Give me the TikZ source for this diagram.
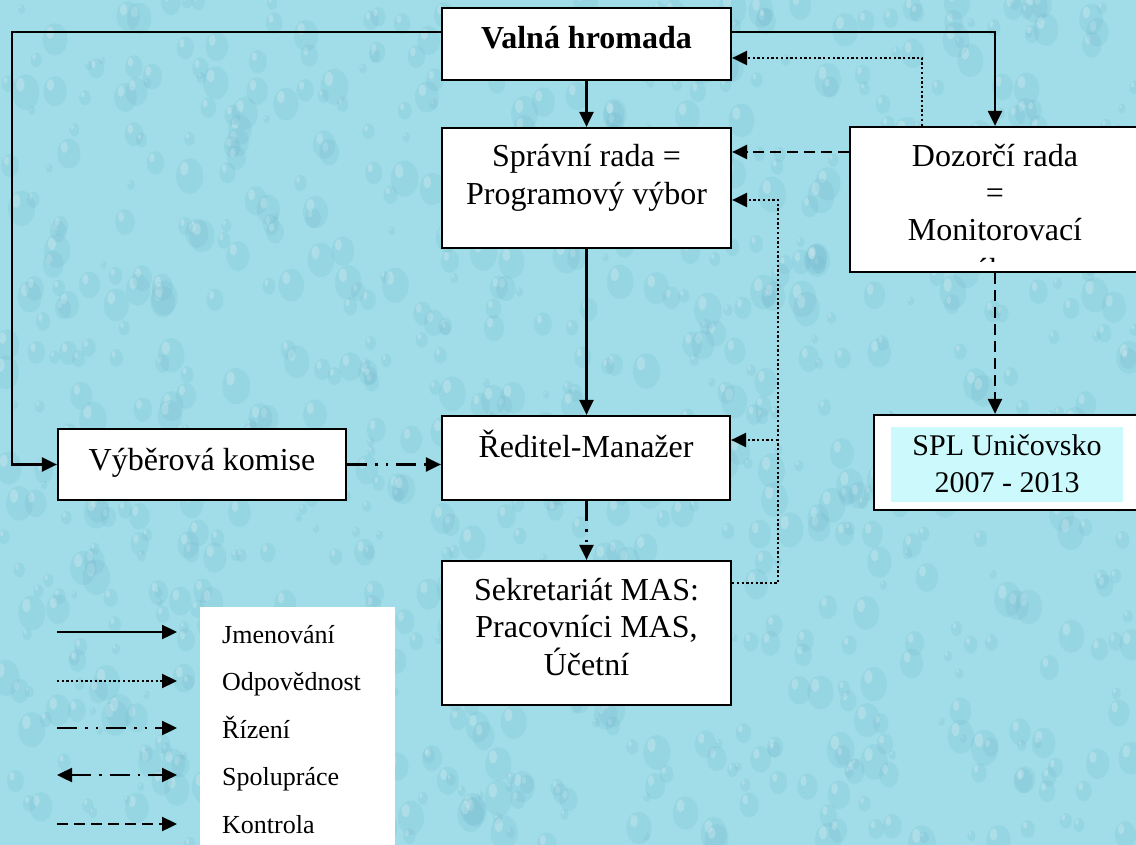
\documentclass[tikz,border=0pt]{standalone}
\usepackage{fontspec}
\setmainfont{Liberation Serif}
\usetikzlibrary{arrows.meta}
\definecolor{bgwater}{RGB}{160,221,232}
\definecolor{dropdark}{RGB}{110,182,204}
\definecolor{splfill}{RGB}{204,250,252}
\tikzset{
 box/.style={draw=black, line width=2.2pt, fill=white, rectangle, inner sep=0pt},
 lbl/.style={anchor=base, inner sep=0pt, font=\fontsize{32}{37}\selectfont},
 spllbl/.style={anchor=base, inner sep=0pt, font=\fontsize{30}{36}\selectfont},
 leglbl/.style={anchor=base west, inner sep=0pt, font=\fontsize{26}{30}\selectfont},
 conn/.style={line width=2.4pt, -{Triangle[length=15pt,width=14pt]}},
 jm/.style={conn},
 odp/.style={conn, line width=2.3pt, dash pattern=on 2.3pt off 2.4pt},
 riz/.style={conn, dash pattern=on 20pt off 8pt on 2.5pt off 8pt on 2.5pt off 8pt},
 spol/.style={line width=2.4pt, {Triangle[length=15pt,width=14pt]}-{Triangle[length=15pt,width=14pt]}, dash pattern=on 20pt off 8pt on 2.5pt off 8pt},
 kon/.style={conn, dash pattern=on 11pt off 6pt},
}
\begin{document}
\begin{tikzpicture}[x=1pt,y=-1pt]
\useasboundingbox (0,0) rectangle (1136,845);
\clip (0,0) rectangle (1136,845);
\fill[bgwater] (0,0) rectangle (1136,845);
% water-drop texture
\pgfmathsetseed{4242}
\foreach \i in {1,...,900}{
  \pgfmathsetmacro{\px}{rnd*1136}
  \pgfmathsetmacro{\py}{rnd*845}
  \pgfmathsetmacro{\pr}{3+rnd*11}
  \fill[dropdark, opacity=0.2] (\px+0.15*\pr,\py+0.15*\pr) ellipse [x radius=\pr, y radius=1.3*\pr];
  \fill[white, opacity=0.22] (\px-0.25*\pr,\py-0.4*\pr) ellipse [x radius=0.3*\pr, y radius=0.5*\pr];
}

% boxes
\node[box, minimum width=289pt, minimum height=72pt] (valna) at (586.5,44) {};
\node[box, minimum width=289pt, minimum height=120pt] (spravni) at (586.5,188) {};
\node[box, minimum width=290pt, minimum height=145pt] (dozorci) at (995,199.5) {};
\node[box, minimum width=288pt, minimum height=71pt] (vyberova) at (202,464.5) {};
\node[box, minimum width=288pt, minimum height=84pt] (reditel) at (586,458) {};
\node[box, minimum width=289pt, minimum height=144pt] (sekretariat) at (586.5,633) {};
\node[box, minimum width=266pt, minimum height=95pt] (spl) at (1007,462.5) {};
\node[fill=splfill, inner sep=0pt, minimum width=232pt, minimum height=75pt] (splbg) at (1007,464.5) {};
\node[fill=white, inner sep=0pt, minimum width=195pt, minimum height=246pt] (legbox) at (297.5,730) {};

% texts
\node[lbl, font=\fontsize{32}{37}\selectfont\bfseries] (valnaT) at (586.5,49) {Valná hromada};
\node[lbl] (spravniT1) at (586.5,167) {Správní rada =};
\node[lbl] (spravniT2) at (586.5,205) {Programový výbor};
\node[lbl] (dozorciT1) at (995,167) {Dozorčí rada};
\node[lbl] (dozorciT2) at (995,204) {=};
\node[lbl] (dozorciT3) at (995,241) {Monitorovací};
\begin{scope}
\clip (852,129) rectangle (1138,262);
\node[lbl] (dozorciT4) at (995,280) {výbor};
\end{scope}
\node[lbl] (vyberovaT) at (202,470) {Výběrová komise};
\node[lbl] (reditelT) at (586,457) {Ředitel-Manažer};
\node[lbl] (sekT1) at (586.5,600) {Sekretariát MAS:};
\node[lbl] (sekT2) at (586.5,637) {Pracovníci MAS,};
\node[lbl] (sekT3) at (586.5,675) {Účetní};
\node[spllbl] (splT1) at (1007,455) {SPL Uničovsko};
\node[spllbl] (splT2) at (1007,492) {2007 - 2013};

% connectors
\coordinate (lc) at (12,32);
\draw[jm] ([yshift=12pt]valna.west) -- (lc) |- (vyberova.west);
\draw[jm] ([yshift=12pt]valna.east) -| (dozorci.north);
\draw[jm] (valna.south) -- (spravni.north);
\draw[jm] (spravni.south) -- (reditel.north -| spravni.south);
\draw[riz] (reditel.south -| sekretariat.north) -- (sekretariat.north);
\draw[riz] (vyberova.east) -- (vyberova.east -| reditel.west);
\draw[odp] ([xshift=-73pt]dozorci.north) |- ([yshift=-14pt]valna.east);
\coordinate (k1) at (0,152);
\draw[kon] (dozorci.west |- k1) -- (spravni.east |- k1);
\draw[kon] (dozorci.south) -- (dozorci.south |- spl.north);
\coordinate (r1) at (778,583);
\coordinate (r2) at (778,200);
\coordinate (r3) at (778,440);
\draw[odp] (sekretariat.east |- r1) -- (r1) -- (r2) -- (spravni.east |- r2);
\draw[odp] (r3) -- (reditel.east |- r3);

% legend
\coordinate (l1a) at (57,632); \coordinate (l1b) at (177,632);
\coordinate (l2a) at (57,681); \coordinate (l2b) at (177,681);
\coordinate (l3a) at (57,728); \coordinate (l3b) at (177,728);
\coordinate (l4a) at (57,775); \coordinate (l4b) at (177,775);
\coordinate (l5a) at (57,824); \coordinate (l5b) at (177,824);
\draw[jm] (l1a) -- (l1b);
\draw[odp] (l2a) -- (l2b);
\draw[riz] (l3a) -- (l3b);
\draw[spol] (l4a) -- (l4b);
\draw[kon] (l5a) -- (l5b);
\node[leglbl] (leg1) at (222,643) {Jmenování};
\node[leglbl] (leg2) at (222,690) {Odpovědnost};
\node[leglbl] (leg3) at (222,738) {Řízení};
\node[leglbl] (leg4) at (222,785) {Spolupráce};
\node[leglbl] (leg5) at (222,833) {Kontrola};
\end{tikzpicture}
\end{document}
